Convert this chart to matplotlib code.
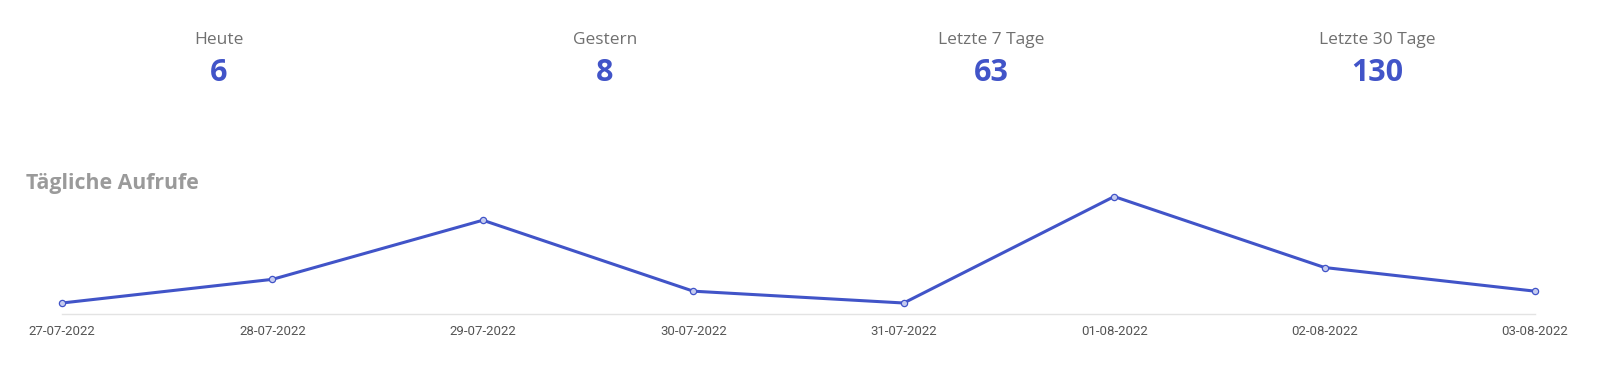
import matplotlib.pyplot as plt

# summary numbers at the top
stat_labels = ["Heute", "Gestern", "Letzte 7 Tage", "Letzte 30 Tage"]
stat_values = [6, 8, 63, 130]

# daily page views
dates = ["27-07-2022", "28-07-2022", "29-07-2022", "30-07-2022",
         "31-07-2022", "01-08-2022", "02-08-2022", "03-08-2022"]
views = [5, 7, 12, 6, 5, 14, 8, 6]

blue = "#4154c8"
W, H = 1598, 383

fig = plt.figure(figsize=(W / 100, H / 100), dpi=100)
fig.patch.set_facecolor("white")

# stat blocks
stat_x = [219, 605, 991, 1377]
for x, label, value in zip(stat_x, stat_labels, stat_values):
    fig.text(x / W, 1 - 40 / H, label, ha="center", va="center",
             fontsize=12.5, color="#707070", family="Open Sans")
    fig.text(x / W, 1 - 73 / H, str(value), ha="center", va="center",
             fontsize=22, fontweight="bold", color=blue, family="Open Sans")

fig.text(26 / W, 1 - 183 / H, "Tägliche Aufrufe", ha="left", va="center",
         fontsize=15.3, fontweight="bold", color="#9a9a9a", family="Open Sans")

# line chart
x0, x1 = 62, 1535
y_bottom, y_top = 314, 180
ax = fig.add_axes([x0 / W, 1 - y_bottom / H, (x1 - x0) / W, (y_bottom - y_top) / H])
xs = list(range(len(dates)))
ax.plot(xs, views, color=blue, linewidth=2.2, marker="o", markersize=4.5,
        markerfacecolor="#c5cbef", markeredgecolor=blue, markeredgewidth=0.9,
        solid_joinstyle="round", clip_on=False, zorder=3)
ax.set_xlim(0, len(dates) - 1)
ax.set_ylim(4.07, 15.4)
ax.set_xticks(xs)
ax.set_xticklabels(dates, fontsize=9.5, color="#555555", family="Roboto")
ax.set_yticks([])
ax.tick_params(axis="x", length=0, pad=8)
for side in ["top", "left", "right"]:
    ax.spines[side].set_visible(False)
ax.spines["bottom"].set_color("#e3e3e3")
ax.spines["bottom"].set_linewidth(1)
ax.set_facecolor("none")

fig.savefig("out.png", dpi=100)
